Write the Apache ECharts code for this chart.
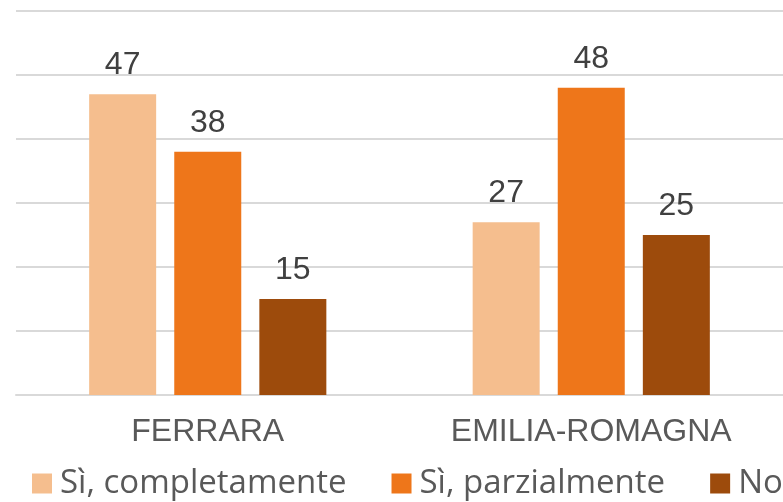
<!DOCTYPE html>
<html>
<head>
<meta charset="utf-8">
<script src="https://cdn.jsdelivr.net/npm/echarts@6/dist/echarts.min.js"></script>
<style>
html,body{margin:0;padding:0;background:#fff;}
#chart{width:783px;height:502px;}
</style>
</head>
<body>
<div id="chart"></div>
<script>
const categories = ['FERRARA', 'EMILIA-ROMAGNA'];
const seriesNames = ['Sì, completamente', 'Sì, parzialmente', 'No'];
const completamente = [47, 27];
const parzialmente = [38, 48];
const no = [15, 25];
const colors = ['#F5BE8E', '#EE761A', '#9D4B0C'];

const chart = echarts.init(document.getElementById('chart'), null, {renderer: 'canvas'});
const labelStyle = {
  show: true,
  position: 'top',
  distance: 13,
  color: '#404040',
  fontFamily: 'Liberation Sans',
  fontSize: 32,
  lineHeight: 32
};
const dataSets = [completamente, parzialmente, no];
chart.setOption({
  animation: false,
  backgroundColor: '#ffffff',
  grid: {left: 16, top: 11, width: 768, height: 384, containLabel: false},
  legend: {
    left: 32,
    top: 467,
    padding: 0,
    width: 1500,
    itemWidth: 20,
    itemHeight: 20,
    itemGap: 45,
    icon: 'rect',
    textStyle: {color: '#595959', fontFamily: 'Open Sans', fontSize: 33, lineHeight: 33, padding: [0, 0, 0, 3]},
    data: seriesNames
  },
  xAxis: {
    type: 'category',
    data: categories,
    axisLine: {show: true, lineStyle: {color: '#D9D9D9', width: 2}},
    axisTick: {show: false},
    axisLabel: {color: '#595959', fontFamily: 'Liberation Sans', fontSize: 32, margin: 21}
  },
  yAxis: {
    type: 'value',
    min: 0,
    max: 60,
    interval: 10,
    axisLabel: {show: false},
    axisLine: {show: false},
    axisTick: {show: false},
    splitLine: {lineStyle: {color: '#D9D9D9', width: 2}}
  },
  series: seriesNames.map((name, i) => ({
    name: name,
    type: 'bar',
    data: dataSets[i],
    barWidth: 67,
    barGap: '27%',
    itemStyle: {color: colors[i]},
    label: labelStyle
  }))
});
</script>
</body>
</html>
